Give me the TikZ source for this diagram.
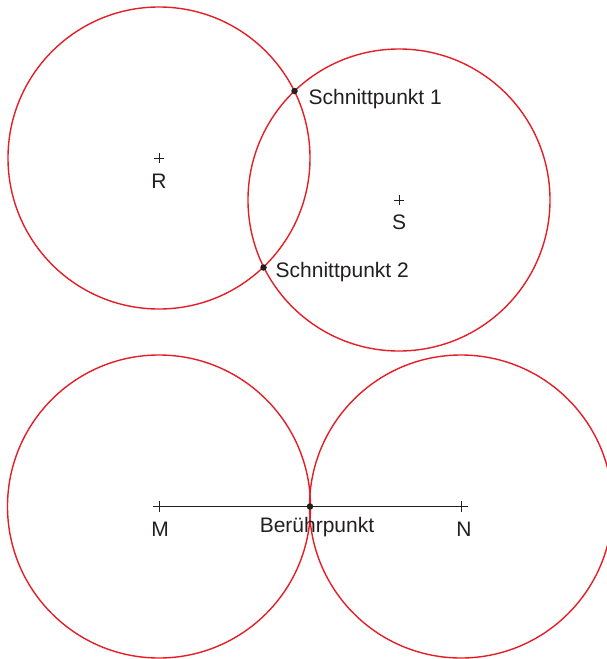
\documentclass[tikz,border=0pt]{standalone}
\usepackage{fontspec}
\setmainfont{Liberation Sans}
\definecolor{cred}{RGB}{228,30,38}
\definecolor{ink}{RGB}{35,31,32}
\begin{document}
\begin{tikzpicture}[x=1pt,y=-1pt,
  circ/.style={draw=cred,line width=1.4pt},
  lbl/.style={text=ink,font=\fontsize{21}{24}\selectfont,inner sep=0pt},
  dotp/.style={circle,fill=ink,inner sep=0pt,minimum size=6.5pt},
  tick/.style={draw=ink,line width=0.9pt}]
\useasboundingbox (0,0) rectangle (607,659);
% centres
\coordinate (R) at (159,158);
\coordinate (S) at (399,200);
\coordinate (M) at (159,506.5);
\coordinate (N) at (461,506.5);
% circles
\draw[circ] (R) circle[radius=151];
\draw[circ] (S) circle[radius=151];
\draw[circ] (M) circle[radius=151.5];
\draw[circ] (N) circle[radius=151.5];
% centre marks
\foreach \c in {R,S}{
  \draw[tick] ([xshift=-5]\c) -- ([xshift=5]\c);
  \draw[tick] ([yshift=-5]\c) -- ([yshift=5]\c);
}
% segment MN
\coordinate (Ma) at (153,506.5);
\coordinate (Nb) at (468,506.5);
\draw[tick] (Ma) -- (Nb);
\draw[tick] ([yshift=-5.5]M) -- ([yshift=5.5]M);
\draw[tick] ([yshift=-5.5]N) -- ([yshift=5.5]N);
% points
\node[dotp] (P1) at (294.5,91) {};
\node[dotp] (P2) at (263.5,267.5) {};
\node[dotp] (B) at (310,506.5) {};
% labels
\node[lbl] (lR) at (159,181) {R};
\node[lbl] (lS) at (399,222) {S};
\node[lbl,anchor=west] (l1) at (308.5,99.5) {Schnittpunkt 1};
\node[lbl,anchor=west] (l2) at (275.5,272.5) {Schnittpunkt 2};
\node[lbl] (lM) at (160,529) {M};
\node[lbl] (lN) at (464,529) {N};
\node[lbl] (lB) at (317,527.5) {Berührpunkt};
\end{tikzpicture}
\end{document}
